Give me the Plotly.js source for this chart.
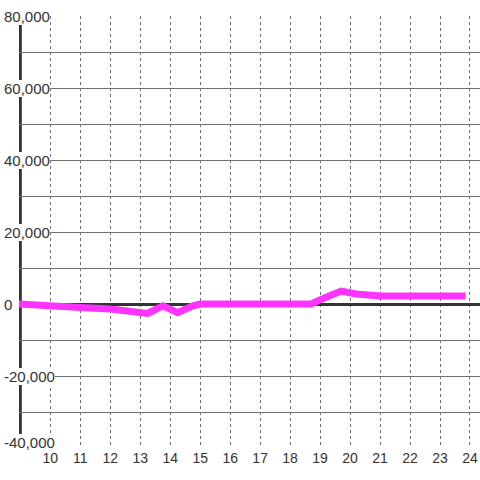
<!DOCTYPE html>
<html>
<head>
<meta charset="utf-8">
<script src="https://cdn.plot.ly/plotly-3.0.1.min.js"></script>
<style>
  html, body { margin: 0; padding: 0; background: #fff; }
  #chart { width: 480px; height: 480px; }
</style>
</head>
<body>
<div id="chart"></div>
<script>
// Data
const hours  = [8.9, 10, 10.5, 11, 12, 12.5, 13, 13.25, 13.75, 14.25, 14.75, 15, 16, 17, 18, 18.7, 19.2, 19.7, 20.2, 20.7, 21, 22, 23, 23.85];
const values = [0, -300, -500, -1000, -1400, -1700, -2100, -2600, -500, -2400, -500, 0, 0, 0, 0, 0, 1900, 3600, 2800, 2200, 2200, 2200, 2200, 2200];

const xTickVals = [10, 11, 12, 13, 14, 15, 16, 17, 18, 19, 20, 21, 22, 23, 24];
const xTickText = ['10', '11', '12', '13', '14', '15', '16', '17', '18', '19', '20', '21', '22', '23', '24'];
const yLabelVals = [80000, 60000, 40000, 20000, 0, -20000, -40000];
const yLabelText = ['80,000', '60,000', '40,000', '20,000', '0', '-20,000', '-40,000'];

const FONT = 'Liberation Sans, Arial, sans-serif';
const TXT = '#333333';
const GRID = '#707070';

const annotations = yLabelVals.map((v, i) => ({
  xref: 'paper', x: 0, xanchor: 'left', xshift: -15,
  yref: 'y', y: v, yanchor: 'middle', yshift: (i === yLabelVals.length - 1) ? 6 : 0,
  text: yLabelText[i], showarrow: false,
  font: { family: FONT, size: 15, color: TXT },
  bgcolor: '#ffffff', borderpad: 0, borderwidth: 0
}));

const trace = {
  x: hours, y: values, type: 'scatter', mode: 'lines',
  line: { color: '#ff33ff', width: 7 },
  hoverinfo: 'skip'
};

const layout = {
  width: 480, height: 480,
  margin: { l: 19, r: 0, t: 16, b: 32, pad: 0 },
  paper_bgcolor: '#ffffff', plot_bgcolor: '#ffffff',
  showlegend: false,
  font: { family: FONT, color: TXT },
  xaxis: {
    range: [8.956, 24.334],
    tickmode: 'array', tickvals: xTickVals, ticktext: xTickText,
    showgrid: true, gridcolor: GRID, gridwidth: 1, griddash: 'dot',
    zeroline: false, showline: false, ticks: '',
    tickfont: { family: FONT, size: 14, color: TXT },
    fixedrange: true
  },
  yaxis: {
    range: [-40000, 80000],
    tickmode: 'linear', tick0: 0, dtick: 10000,
    showticklabels: false,
    showgrid: true, gridcolor: GRID, gridwidth: 1,
    zeroline: true, zerolinecolor: '#333333', zerolinewidth: 3,
    showline: false, ticks: '',
    fixedrange: true
  },
  shapes: [{
    type: 'line', xref: 'x', yref: 'paper', x0: 9, x1: 9, y0: 0, y1: 1,
    line: { color: '#333333', width: 3 }, layer: 'between'
  }],
  annotations: annotations
};

Plotly.newPlot('chart', [trace], layout, { staticPlot: true, displayModeBar: false });
</script>
</body>
</html>
